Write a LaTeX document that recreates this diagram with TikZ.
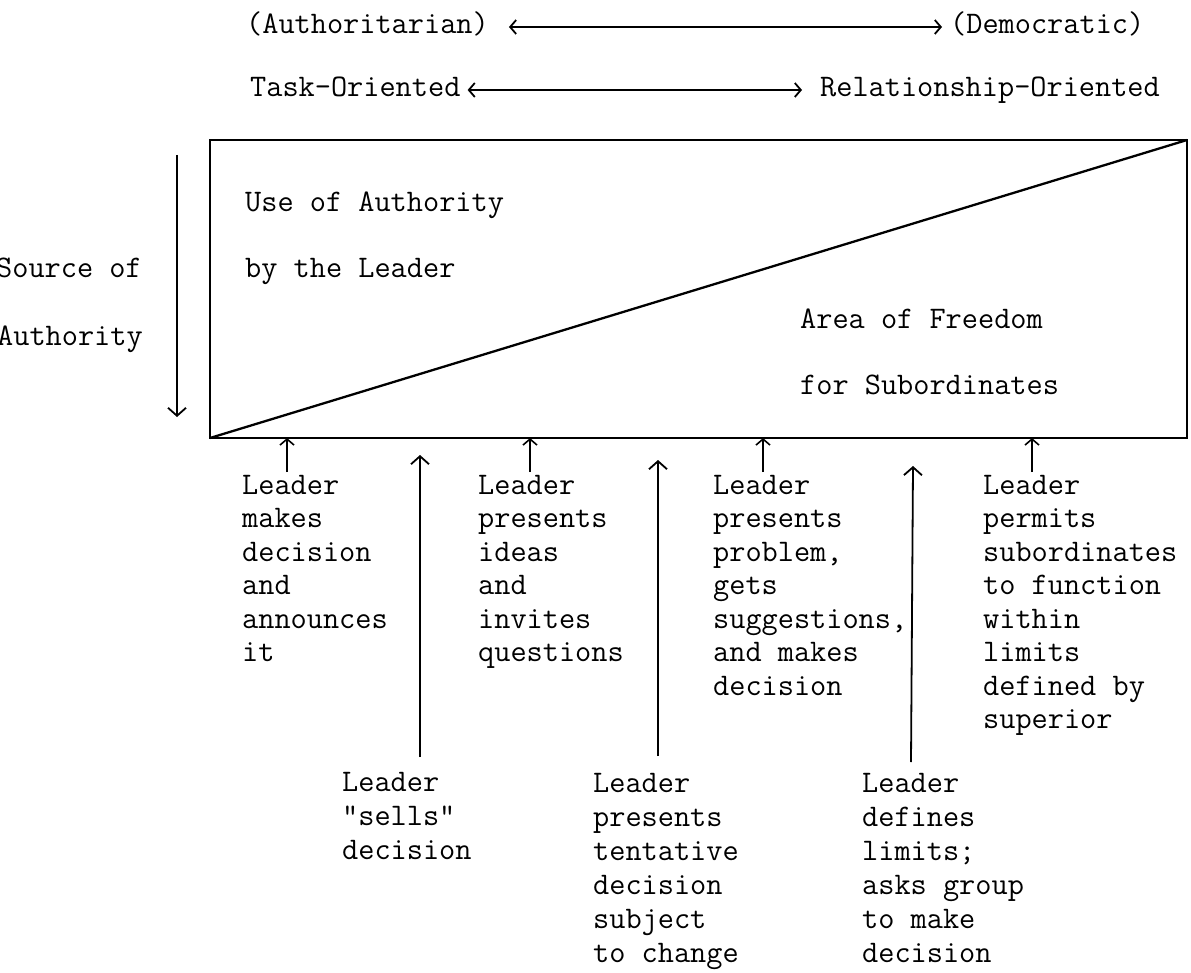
\documentclass[tikz,border=0pt]{standalone}
\usetikzlibrary{arrows.meta}
\begin{document}
\begin{tikzpicture}[x=1pt,y=-1pt,
  txt/.style={font=\ttfamily\fontsize{31.4}{33.5}\selectfont, inner sep=0pt, anchor=base west, align=left},
  ltxt/.style={txt, font=\ttfamily\fontsize{31.4}{34}\selectfont},
  frame/.style={line width=2.6pt, line join=miter},
  diag/.style={line width=2.3pt},
  smallarrow/.style={line width=1.6pt,-{Straight Barb[length=6pt,width=14pt,line width=1.6pt]}},
  bigarrow/.style={line width=1.8pt,-{Straight Barb[length=8pt,width=18pt,line width=1.8pt]}},
  dblarrow/.style={line width=2.6pt,{Straight Barb[length=6pt,width=14pt,line width=1.8pt]}-{Straight Barb[length=6pt,width=14pt,line width=1.8pt]}}
]
\useasboundingbox[fill=white] (0,0) rectangle (1191,973);

% top rows
\node[txt] (auth) at (246,34) {(Authoritarian)};
\node[txt] (demo) at (950,34) {(Democratic)};
\node[txt] (task) at (250,97) {Task-Oriented};
\node[txt] (rel) at (820,97) {Relationship-Oriented};
\draw[dblarrow, shorten <=20pt, shorten >=8pt] ([yshift=7pt]auth.base east) -- ([yshift=7pt]demo.base west);
\draw[dblarrow, shorten <=7pt, shorten >=18pt] ([yshift=7pt]task.base east) -- ([yshift=7pt]rel.base west);

% frame
\coordinate (bl) at (210,438);
\coordinate (tr) at (1187,140);
\draw[frame] (bl) rectangle (tr);
\draw[diag] (bl) -- (tr);

% left side
\node[txt] (src1) at (-4,278) {Source of};
\node[txt] (src2) at (-3,345) {Authority};
\coordinate (la1) at (177,155);
\coordinate (la2) at (177,417);
\draw[bigarrow] (la1) -- (la2);

% inside texts
\node[txt] (use1) at (245,212) {Use of Authority};
\node[txt] (use2) at (245,278) {by the Leader};
\node[txt] (area1) at (800,329) {Area of Freedom};
\node[txt] (area2) at (800,395) {for Subordinates};

% upper columns (anchor = baseline of last line)
\node[txt] (c1) at (242,661.5) {Leader\\makes\\decision\\and\\announces\\it};
\node[txt] (c3) at (478,661.5) {Leader\\presents\\ideas\\and\\invites\\questions};
\node[txt] (c5) at (713,695) {Leader\\presents\\problem,\\gets\\suggestions,\\and makes\\decision};
\node[txt] (c7) at (983,728.5) {Leader\\permits\\subordinates\\to function\\within\\limits\\defined by\\superior};

% lower columns
\node[ltxt] (c2) at (342,859) {Leader\\"sells"\\decision};
\node[ltxt] (c4) at (593,962) {Leader\\presents\\tentative\\decision\\subject\\to change};
\node[ltxt] (c6) at (862,962) {Leader\\defines\\limits;\\asks group\\to make\\decision};

% small arrows
\coordinate (s1) at (287,472);
\coordinate (s3) at (530,472);
\coordinate (s5) at (763,472);
\coordinate (s7) at (1032,472);
\foreach \s in {s1,s3,s5,s7} \draw[smallarrow] (\s) -- (\s |- bl);

% long arrows
\coordinate (b2) at (420,757);
\coordinate (b2t) at (420,455);
\coordinate (b4) at (658,756);
\coordinate (b4t) at (658,460);
\coordinate (b6) at (911,762);
\coordinate (b6t) at (913,466);
\draw[bigarrow] (b2) -- (b2t);
\draw[bigarrow] (b4) -- (b4t);
\draw[bigarrow] (b6) -- (b6t);
\end{tikzpicture}
\end{document}
